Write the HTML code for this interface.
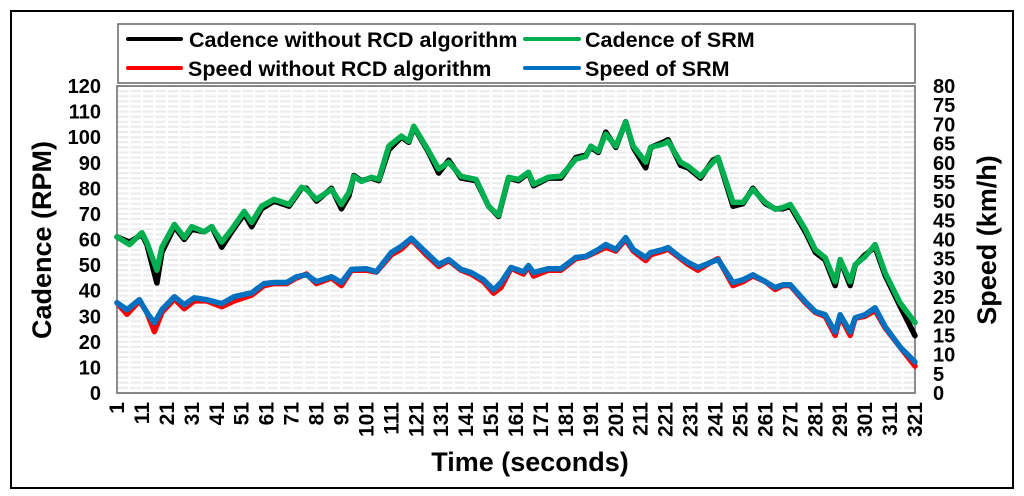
<!DOCTYPE html>
<html><head><meta charset="utf-8"><style>
body{margin:0;background:#fff;}
svg{display:block;font-family:"Liberation Sans",Arial,sans-serif;font-weight:bold;}
</style></head><body>
<svg id="chart" width="1024" height="496">
<rect x="11" y="11" width="1002" height="477" fill="#fff" stroke="#000" stroke-width="2"/>
<g id="grid"></g>
<rect x="117" y="86" width="798" height="307" fill="none" stroke="#666" stroke-width="1.5"/>
<g id="series"></g>
<g id="axes"></g>
<g>
<rect x="118" y="24" width="797" height="59" fill="#fff" stroke="#666" stroke-width="1.5"/>
<g><line x1="128" y1="39" x2="181" y2="39" stroke="#000" stroke-width="4" stroke-linecap="round"/><text x="189" y="47" font-size="21.5">Cadence without RCD algorithm</text></g>
<g><line x1="128" y1="68" x2="181" y2="68" stroke="#f00" stroke-width="4" stroke-linecap="round"/><text x="188" y="76" font-size="21.5">Speed without RCD algorithm</text></g>
<g><line x1="525" y1="39" x2="579" y2="39" stroke="#00b050" stroke-width="4" stroke-linecap="round"/><text x="585" y="47" font-size="21.5">Cadence of SRM</text></g>
<g><line x1="525" y1="68" x2="579" y2="68" stroke="#0070c0" stroke-width="4" stroke-linecap="round"/><text x="585" y="76" font-size="21.5">Speed of SRM</text></g>
</g>
<text x="530" y="471" font-size="27" text-anchor="middle">Time (seconds)</text>
<text transform="translate(51,240) rotate(-90)" font-size="27" text-anchor="middle">Cadence (RPM)</text>
<text transform="translate(996,240) rotate(-90)" font-size="27" text-anchor="middle">Speed (km/h)</text>
</svg>
<script>
const cadTimes=[1,6,11,13,17,19,24,28,31,36,39,43,47,52,55,59,64,70,75,77,81,87,91,94,96,99,103,106,110,115,118,120,126,130,134,139,145,150,154,158,162,166,168,174,179,185,189,191,194,197,201,205,208,213,215,220,222,227,230,235,240,242,248,252,256,261,265,268,271,277,281,285,289,291,295,297,301,305,309,315,321];
const cadSRM=[61,58,62.7,58.8,48,57,65.9,60.8,65,63,65,59,64,71,66.7,73,75.7,73.7,80.4,79.6,75.7,79.6,73.7,78.4,84.7,82.7,84.3,83.5,96.5,100.4,98.4,104.3,94.5,87.5,90.2,84.7,83.5,73,69.4,84.3,83.5,86.3,81.6,84.3,84.7,91.4,92.5,96.5,94.5,101.2,96.5,105.9,96.5,90.2,96,97.3,98.4,90.2,88.6,84.7,90.2,92.1,74.5,74.5,79.6,74.5,71.8,72.5,73.7,64,56,52.9,43.5,52.2,43.5,50.2,53.3,58,47,35.3,27.5];
const cadRaw=[61,59,62,58,43,55,65,60,64,63,65,57,63,70,65,72,75,73,80,80,75,80,72,77,85,83,84,83,95,100,98,104,94,86,91,84,83,73,69,84,83,86,81,84,84,92,93,96,94,102,96,106,96,88,96,98,99,89,88,84,91,92,73,74,80,74,72,72,73,63,55,52,42,52,42,50,54,57,46,34,22.4];
const spdTimes=[1,5,10,13,16,19,24,28,32,37,43,48,55,60,64,69,73,77,81,87,91,95,101,105,111,115,119,125,130,134,139,143,148,152,155,159,164,166,168,174,179,185,189,194,197,201,205,208,213,215,220,222,227,230,234,239,242,248,252,256,261,265,268,271,277,281,285,289,291,295,297,301,305,309,315,321];
const spdSRM=[23.5,21.7,24.3,20.9,18.3,21.7,25.1,23,24.8,24.3,23.3,25.1,26.1,28.5,28.8,28.8,30.3,30.8,29,30.3,28.8,32.2,32.4,31.6,36.6,38.2,40.3,36.6,33.5,34.8,32.2,31.4,29.5,26.9,28.8,32.7,31.6,33.2,31.4,32.4,32.4,35.3,35.6,37.4,38.7,37.4,40.5,37.4,35.3,36.6,37.4,37.9,35.3,34,32.7,34,34.8,28.8,29.5,30.8,29,27.5,28.2,28.2,23.8,21.2,20.4,15.9,20.4,15.9,19.6,20.4,22.2,17.3,12,8.1];
const spdRaw=[23.5,20.5,24,21,16,21,24.5,22,24,24,22.5,24,25.5,28,28.5,28.5,30,31,28.5,30,28,32,32,31.5,36,37.5,40,36,33,34.5,32,31,29,26,27.5,32.5,31,33,30.5,32,32,35,35.5,37,38,37,40,37,34.5,36,37,37.5,35,33.5,32,34,35,28,29,30.5,29,27,28,28,23.5,21,20,15,20,15,19.5,20,21.5,17,12,7];
const leftTicks=[0,10,20,30,40,50,60,70,80,90,100,110,120];
const rightTicks=[0,5,10,15,20,25,30,35,40,45,50,55,60,65,70,75,80];
const xTicks=[1,11,21,31,41,51,61,71,81,91,101,111,121,131,141,151,161,171,181,191,201,211,221,231,241,251,261,271,281,291,301,311,321];

const NS="http://www.w3.org/2000/svg";
const X0=117,X1=915,Y0=393,Y1=86;
const xs=t=>X0+(t-1)/320*(X1-X0);
const yl=v=>Y0-v/120*(Y0-Y1);
const yr=v=>Y0-v/80*(Y0-Y1);
function mk(tag,attrs,parent){const e=document.createElementNS(NS,tag);for(const k in attrs)e.setAttribute(k,attrs[k]);parent.appendChild(e);return e;}
const grid=document.getElementById('grid'),ser=document.getElementById('series'),axes=document.getElementById('axes');
for(let v=0;v<=120;v+=2){const l=mk('line',{x1:X0,x2:X1,y1:yl(v),y2:yl(v),stroke:'#ebebeb','stroke-width':2},grid);

}
for(let t=1;t<=321;t+=5){const l=mk('line',{x1:xs(t),x2:xs(t),y1:Y1,y2:Y0,stroke:'#fff','stroke-width':2},grid);

}
function path(ts,vs,fy,color,w,name){const d=ts.map((t,i)=>(i?'L':'M')+xs(t).toFixed(1)+','+fy(vs[i]).toFixed(1)).join('');
const p=mk('path',{d:d,fill:'none',stroke:color,'stroke-width':w,'stroke-linejoin':'round','stroke-linecap':'round'},ser);

}
path(cadTimes,cadRaw,yl,'#000',5.5,'cadence-raw-line');
path(cadTimes,cadSRM,yl,'#00b050',5.5,'cadence-srm-line');
path(spdTimes,spdRaw,yr,'#f00',5.5,'speed-raw-line');
path(spdTimes,spdSRM,yr,'#0070c0',5.5,'speed-srm-line');
leftTicks.forEach(v=>{const t=mk('text',{x:101,y:yl(v)+7,'font-size':20,'text-anchor':'end'},axes);t.textContent=v;

});
rightTicks.forEach(v=>{const t=mk('text',{x:933,y:yr(v)+7,'font-size':20},axes);t.textContent=v;

});
xTicks.forEach(v=>{const x=xs(v)+7;const t=mk('text',{transform:`translate(${x.toFixed(1)},402) rotate(-90)`,'font-size':21,'text-anchor':'end'},axes);t.textContent=v;

});
</script>
</body></html>
